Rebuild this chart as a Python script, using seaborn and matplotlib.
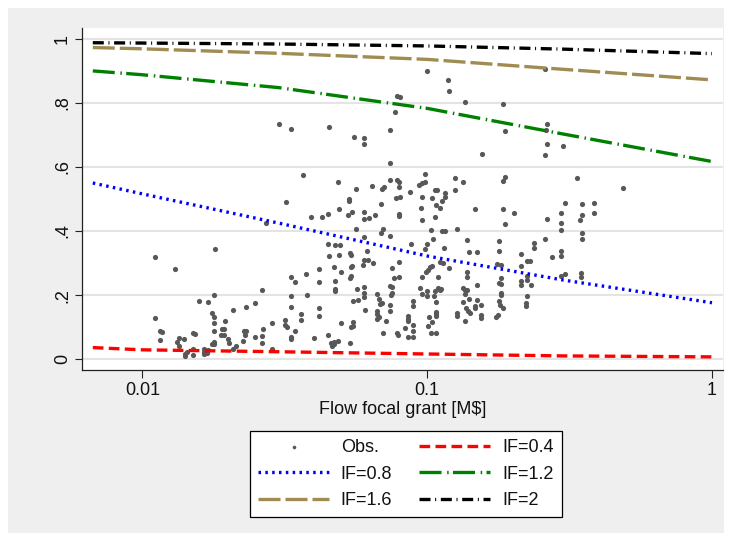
import matplotlib
matplotlib.use("Agg")
import matplotlib.pyplot as plt
from matplotlib.patches import Rectangle
from matplotlib.ticker import NullLocator
import seaborn as sns

# observed grants (flow in M$, share)
obs_x = [0.0111, 0.0130, 0.0180, 0.0179, 0.0158, 0.0170, 0.0232, 0.0249, 0.0208, 0.0111,
         0.0175, 0.0179, 0.0179, 0.0195, 0.0271, 0.0263, 0.0285, 0.0115, 0.0117, 0.0115,
         0.0179, 0.0190, 0.0193, 0.0189, 0.0193, 0.0228, 0.0231, 0.0230, 0.0266, 0.0264,
         0.0249, 0.0151, 0.0153, 0.0135, 0.0140, 0.0132, 0.0200, 0.0201, 0.0179, 0.0179,
         0.0175, 0.0225, 0.0264, 0.0208, 0.0213, 0.0135, 0.0151, 0.0144, 0.0141, 0.0141,
         0.0151, 0.0165, 0.0164, 0.0165, 0.0168, 0.0170, 0.0285, 0.0302, 0.0333, 0.0320,
         0.0367, 0.0390, 0.0333, 0.0344, 0.0374, 0.0418, 0.0416, 0.0333, 0.0379, 0.0333,
         0.0360, 0.0360, 0.0418, 0.0418, 0.0317, 0.0317, 0.0321, 0.0344, 0.0333, 0.0333,
         0.0401, 0.0451, 0.0553, 0.0602, 0.0602, 0.0738, 0.0742, 0.0485, 0.0561, 0.0639,
         0.0692, 0.0703, 0.0533, 0.0533, 0.0690, 0.0492, 0.0543, 0.0527, 0.0600, 0.0600,
         0.0623, 0.0654, 0.0426, 0.0450, 0.0561, 0.0697, 0.0690, 0.0600, 0.0447, 0.0475,
         0.0494, 0.0537, 0.0540, 0.0616, 0.0492, 0.0451, 0.0600, 0.0618, 0.0644, 0.0546,
         0.0540, 0.0596, 0.0470, 0.0497, 0.0540, 0.0537, 0.0475, 0.0568, 0.0473, 0.0473,
         0.0602, 0.0600, 0.0549, 0.0570, 0.0600, 0.0666, 0.0677, 0.0692, 0.0683, 0.0606,
         0.0666, 0.0668, 0.0676, 0.0666, 0.0500, 0.0549, 0.0549, 0.0541, 0.0715, 0.0461,
         0.0470, 0.0465, 0.0470, 0.0486, 0.0538, 0.0697, 0.0450, 0.0785, 0.0792,
         0.1002, 0.1186, 0.1197, 0.0785, 0.0803, 0.1361, 0.0774, 0.1559, 0.0740, 0.0785,
         0.0794, 0.0798, 0.0985, 0.0939, 0.0962, 0.0985, 0.1249, 0.1340, 0.0776, 0.0803,
         0.0871, 0.0957, 0.1038, 0.1068, 0.1080, 0.1155, 0.1155, 0.1255, 0.1125, 0.1075,
         0.1112, 0.0798, 0.0798, 0.0952, 0.1068, 0.0960, 0.1468, 0.1035, 0.1130, 0.1152,
         0.1273, 0.0740, 0.1051, 0.0876, 0.1000, 0.0985, 0.1145, 0.1380, 0.1398, 0.1497,
         0.1791, 0.1791, 0.0797, 0.0752, 0.0766, 0.0794, 0.0960, 0.0989, 0.1005, 0.1026,
         0.1043, 0.1088, 0.1107, 0.1137, 0.1193, 0.1380, 0.1380, 0.0740, 0.0752, 0.0752,
         0.0748, 0.0947, 0.1000, 0.1000, 0.1068, 0.1060, 0.1088, 0.1107, 0.1122, 0.0962,
         0.1340, 0.1355, 0.1377, 0.1359, 0.1497, 0.0740, 0.0740, 0.0895, 0.0895, 0.1071,
         0.1071, 0.1071, 0.1071, 0.1334, 0.1403, 0.1370, 0.1392, 0.1411, 0.1268, 0.1268,
         0.1468, 0.1475, 0.1494, 0.1543, 0.1543, 0.1543, 0.1355, 0.0857, 0.0857, 0.0857,
         0.0895, 0.0895, 0.0834, 0.0857, 0.0895, 0.1013, 0.1040, 0.1007, 0.1035, 0.1071,
         0.1745, 0.1774,
         0.2595, 0.1842, 0.1872, 0.2630, 0.2615, 0.2630, 0.2595, 0.3007, 0.1872, 0.1842,
         0.3352, 0.4881, 0.1842, 0.2018, 0.1872, 0.2630, 0.2952, 0.3055, 0.3488, 0.3864,
         0.3864, 0.3488, 0.3450, 0.2952, 0.2952, 0.3488, 0.3488, 0.2595, 0.2376, 0.2376,
         0.2129, 0.2952, 0.2952, 0.2746, 0.2247, 0.2296, 0.1765, 0.1813, 0.2129, 0.1813,
         0.1791, 0.1813, 0.2129, 0.2129, 0.2247, 0.2247, 0.2309, 0.2952, 0.3052, 0.3475,
         0.3475, 0.1813, 0.1813, 0.2237, 0.1791, 0.1806, 0.1842, 0.2226, 0.2226]
obs_y = [0.320, 0.282, 0.343, 0.201, 0.183, 0.178, 0.163, 0.176, 0.152, 0.128,
         0.144, 0.131, 0.113, 0.119, 0.424, 0.215, 0.112, 0.088, 0.084, 0.060,
         0.088, 0.093, 0.093, 0.075, 0.075, 0.088, 0.088, 0.074, 0.094, 0.072,
         0.070, 0.081, 0.077, 0.065, 0.062, 0.054, 0.062, 0.049, 0.055, 0.048,
         0.047, 0.056, 0.050, 0.033, 0.041, 0.042, 0.033, 0.023, 0.017, 0.010,
         0.013, 0.032, 0.023, 0.016, 0.018, 0.028, 0.032, 0.734, 0.719, 0.490,
         0.574, 0.444, 0.257, 0.242, 0.265, 0.280, 0.241, 0.198, 0.201, 0.163,
         0.141, 0.122, 0.159, 0.135, 0.123, 0.108, 0.100, 0.088, 0.070, 0.063,
         0.067, 0.726, 0.695, 0.690, 0.672, 0.715, 0.612, 0.553, 0.530, 0.540,
         0.531, 0.538, 0.499, 0.495, 0.484, 0.468, 0.458, 0.450, 0.459, 0.438,
         0.441, 0.449, 0.444, 0.452, 0.407, 0.407, 0.393, 0.381, 0.360, 0.357,
         0.357, 0.332, 0.326, 0.338, 0.326, 0.321, 0.310, 0.310, 0.301, 0.292,
         0.288, 0.294, 0.287, 0.271, 0.259, 0.252, 0.244, 0.219, 0.219, 0.212,
         0.226, 0.206, 0.182, 0.184, 0.193, 0.203, 0.188, 0.176, 0.171, 0.154,
         0.151, 0.141, 0.132, 0.126, 0.112, 0.115, 0.104, 0.100, 0.120, 0.049,
         0.054, 0.042, 0.047, 0.058, 0.050, 0.081, 0.075, 0.083, 0.075,
         0.901, 0.871, 0.838, 0.823, 0.818, 0.802, 0.772, 0.641, 0.559, 0.559,
         0.553, 0.537, 0.577, 0.544, 0.549, 0.552, 0.565, 0.554, 0.502, 0.507,
         0.521, 0.507, 0.502, 0.528, 0.528, 0.518, 0.507, 0.528, 0.494, 0.481,
         0.473, 0.454, 0.447, 0.472, 0.445, 0.434, 0.468, 0.403, 0.400, 0.401,
         0.406, 0.385, 0.374, 0.358, 0.358, 0.345, 0.348, 0.371, 0.333, 0.334,
         0.369, 0.338, 0.304, 0.285, 0.253, 0.256, 0.256, 0.271, 0.278, 0.287,
         0.292, 0.255, 0.302, 0.299, 0.285, 0.273, 0.256, 0.229, 0.226, 0.205,
         0.200, 0.223, 0.213, 0.198, 0.213, 0.198, 0.222, 0.215, 0.219, 0.204,
         0.223, 0.216, 0.215, 0.204, 0.232, 0.169, 0.150, 0.181, 0.166, 0.177,
         0.146, 0.140, 0.134, 0.177, 0.188, 0.160, 0.150, 0.143, 0.144, 0.135,
         0.167, 0.160, 0.184, 0.168, 0.138, 0.129, 0.119, 0.135, 0.124, 0.118,
         0.105, 0.088, 0.098, 0.070, 0.070, 0.133, 0.115, 0.102, 0.082, 0.082,
         0.131, 0.137,
         0.906, 0.798, 0.713, 0.735, 0.717, 0.671, 0.638, 0.666, 0.570, 0.556,
         0.567, 0.533, 0.470, 0.457, 0.422, 0.438, 0.455, 0.488, 0.483, 0.488,
         0.457, 0.451, 0.434, 0.425, 0.404, 0.393, 0.376, 0.375, 0.362, 0.346,
         0.329, 0.338, 0.323, 0.318, 0.306, 0.307, 0.298, 0.294, 0.291, 0.252,
         0.238, 0.235, 0.245, 0.233, 0.259, 0.247, 0.230, 0.259, 0.267, 0.270,
         0.255, 0.207, 0.201, 0.197, 0.180, 0.169, 0.159, 0.174, 0.166]

# predicted curves by IF
grid_x = [0.0067, 0.01, 0.03, 0.1, 0.3, 1.0]
p_if04 = [0.036, 0.029, 0.023, 0.016, 0.010, 0.007]
p_if08 = [0.550, 0.516, 0.425, 0.322, 0.247, 0.176]
p_if12 = [0.900, 0.888, 0.848, 0.783, 0.703, 0.617]
p_if16 = [0.973, 0.969, 0.955, 0.936, 0.905, 0.872]
p_if20 = [0.988, 0.987, 0.984, 0.978, 0.968, 0.954]
curve_labels = ["IF=0.4", "IF=0.8", "IF=1.2", "IF=1.6", "IF=2"]

x_ticks = [0.01, 0.1, 1]
x_ticklabels = ["0.01", "0.1", "1"]
y_ticks = [0, 0.2, 0.4, 0.6, 0.8, 1]
y_ticklabels = ["0", ".2", ".4", ".6", ".8", "1"]

sns.set_theme(style="white")
plt.rcParams["font.family"] = ["Liberation Sans", "DejaVu Sans"]
txt = "#111111"

fig = plt.figure(figsize=(7.3, 5.37), dpi=100, facecolor="white")
# grey graph region behind everything
fig.patches.append(Rectangle((8 / 730, 4 / 537), 716 / 730, 525 / 537,
                             transform=fig.transFigure, facecolor="#efefef",
                             edgecolor="none", zorder=-10))
ax = fig.add_axes([82 / 730, 1 - 370 / 537, 641 / 730, 342 / 537])
ax.set_zorder(1)
ax.set_facecolor("white")

sns.scatterplot(x=obs_x, y=obs_y, ax=ax, color="#585858", s=14, linewidth=0,
                label="Obs.", legend=False, zorder=2)

curves = [p_if04, p_if08, p_if12, p_if16, p_if20]
colors = ["#ff0000", "#0000ff", "#008000", "#a08c52", "#000000"]
dashes = [(3.2, 1.6), (0.75, 1.3), (6.6, 1.7, 0.45, 1.3), (6.6, 1.5), (3.3, 1.4, 0.3, 1.4)]
for vals, c, d, lab in zip(curves, colors, dashes, curve_labels):
    sns.lineplot(x=grid_x, y=vals, ax=ax, color=c, lw=2.4, linestyle=(0, d),
                 label=lab, legend=False, zorder=3)

ax.set_xscale("log")
ax.set_xlim(0.00614, 1.093)
ax.set_ylim(-0.034, 1.034)
ax.set_xticks(x_ticks, labels=x_ticklabels)
ax.xaxis.set_minor_locator(NullLocator())
ax.set_yticks(y_ticks, labels=y_ticklabels, rotation=90, va="center")
ax.grid(axis="y", color="#e4e4e4", lw=1.5)
ax.grid(axis="x", visible=False)
ax.set_axisbelow(True)

for s in ["top", "right"]:
    ax.spines[s].set_visible(False)
for s in ["left", "bottom"]:
    ax.spines[s].set_color("#222222")
    ax.spines[s].set_linewidth(0.9)
ax.tick_params(bottom=True, left=True, direction="out", length=5.4, width=0.8,
               color="#222222", labelsize=13, labelcolor=txt)
ax.tick_params(axis="x", pad=3.5)
ax.tick_params(axis="y", pad=2.5)
ax.set_xlabel(r"Flow focal grant [M\$]", fontsize=13, color=txt, labelpad=1)
ax.set_ylabel("")

h, l = ax.get_legend_handles_labels()
order = [0, 2, 4, 1, 3, 5]
leg = fig.legend([h[i] for i in order], [l[i] for i in order], ncol=2, loc="center",
                 bbox_to_anchor=(0.556, 0.1173), frameon=True, fancybox=False,
                 edgecolor="black", facecolor="white", framealpha=1, fontsize=13,
                 handlelength=3.9, handletextpad=0.67, columnspacing=1.5,
                 labelspacing=0.52, borderpad=0.45, scatterpoints=1, markerscale=0.7)
leg.get_frame().set_linewidth(0.9)
for t in leg.get_texts():
    t.set_color(txt)

fig.savefig("out.png", dpi=100, facecolor=fig.get_facecolor())
